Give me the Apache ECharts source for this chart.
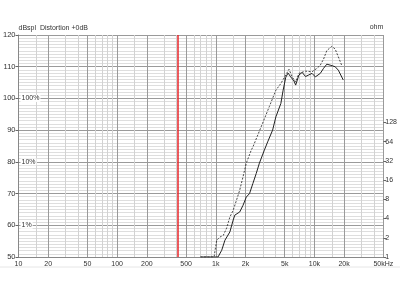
<!DOCTYPE html>
<html>
<head>
<meta charset="utf-8">
<script src="https://cdn.jsdelivr.net/npm/echarts@6/dist/echarts.min.js"></script>
<style>html,body{margin:0;padding:0;background:#fff;}#c{width:400px;height:300px;}</style>
</head>
<body>
<div id="c"></div>
<script>
// ---- data ----
const solidFreq = [700, 1054, 1148, 1239, 1390, 1500, 1560, 1750, 1890, 2040, 2200, 2380, 2570, 2770, 3110, 3360, 3770, 4070, 4570, 4820, 5130, 5410, 5750, 6210, 6460, 6970, 7520, 8130, 8770, 9460, 10230, 10620, 11480, 12390, 13370, 14450, 16220, 17500, 19630];
const solidDb   = [50, 50, 52.1, 55.3, 57.9, 61.6, 63.2, 64.2, 66.3, 68.9, 70, 73.2, 76.3, 79.6, 83.7, 86.3, 90, 94.2, 98.4, 102.6, 106.7, 108, 106.8, 105.5, 104.2, 107.4, 108.2, 106.9, 107.4, 107.9, 106.8, 106.3, 107.9, 109.5, 110.8, 110.5, 110, 108.9, 105.8];
const dashFreq  = [700, 962, 984, 1023, 1104, 1191, 1288, 1390, 1500, 1622, 1750, 1890, 2040, 2290, 2380, 2880, 3490, 4070, 4570, 5130, 5530, 5970, 6460, 6970, 8130, 9460, 10620, 11480, 12390, 13370, 15000, 16220, 17500, 18880];
const dashDb    = [50, 50, 52.1, 55.3, 56.3, 56.8, 59.1, 62.6, 64.7, 67.9, 71.1, 75.3, 79.6, 83.7, 84.7, 91, 97.4, 102.6, 104.7, 107.4, 109.2, 106.7, 105.2, 107.9, 108.6, 108.4, 109.5, 110.5, 112.4, 115.1, 116.4, 115.6, 113.1, 110.5];
const markerFreq = 410;
const xMajorTicks = [10, 20, 50, 100, 200, 500, 1000, 2000, 5000, 10000, 20000, 50000];
const xTickLabels = ['10', '20', '50', '100', '200', '500', '1k', '2k', '5k', '10k', '20k', '50kHz'];
const xMinorTicks = [15, 30, 40, 60, 70, 80, 90, 150, 300, 400, 600, 700, 800, 900, 1500, 3000, 4000, 6000, 7000, 8000, 9000, 15000, 30000, 40000];
const ohmTicks = [1, 2, 4, 8, 16, 32, 64, 128];
const distTicks = [60, 80, 100];
const distLabels = ['1%', '10%', '100%'];

const FONT = 'Liberation Sans, Arial, sans-serif';
const zip = (a, b) => a.map((v, i) => [v, b[i]]);

const chart = echarts.init(document.getElementById('c'), null, {renderer: 'canvas'});
chart.setOption({
  animation: false,
  backgroundColor: '#fff',
  grid: {left: 16, right: 15, top: 35, bottom: 43, containLabel: false},
  graphic: [{type: 'line', shape: {x1: 0, y1: 267, x2: 400, y2: 267}, style: {stroke: '#e6e6e6', lineWidth: 1}, silent: true}],
  xAxis: [
    {
      type: 'log', min: 10, max: 50000, position: 'bottom',
      axisLine: {show: false}, axisTick: {show: false, customValues: xMinorTicks},
      axisLabel: {show: false, customValues: xMinorTicks},
      splitLine: {show: true, lineStyle: {color: '#d2d2d2', width: 1}}
    },
    {
      type: 'log', min: 10, max: 50000, position: 'bottom',
      axisLine: {show: true, lineStyle: {color: '#888'}},
      axisTick: {show: false, customValues: xMajorTicks},
      axisLabel: {
        customValues: xMajorTicks, fontSize: 7, color: '#333', fontFamily: FONT, margin: 4,
        formatter: v => xTickLabels[xMajorTicks.indexOf(Math.round(v))] || ''
      },
      splitLine: {show: true, lineStyle: {color: '#9a9a9a', width: 1}}
    }
  ],
  yAxis: [
    {
      type: 'value', min: 50, max: 120, interval: 10, position: 'left',
      name: 'dBspl  Distortion +0dB', nameLocation: 'end', nameGap: 3,
      nameTextStyle: {align: 'left', fontSize: 7, color: '#333', fontFamily: FONT, padding: [0, 0, 0, 0]},
      axisLine: {show: true, lineStyle: {color: '#888'}},
      axisTick: {show: true, length: 3, lineStyle: {color: '#666'}},
      axisLabel: {fontSize: 7.5, color: '#333', fontFamily: FONT, margin: 3},
      splitLine: {show: true, lineStyle: {color: '#9a9a9a', width: 1}},
      minorTick: {show: false, splitNumber: 10},
      minorSplitLine: {show: true, lineStyle: {color: '#dedede', width: 1}}
    },
    {
      type: 'log', logBase: 2, min: 1, max: 2992, position: 'right',
      name: 'ohm', nameLocation: 'end', nameGap: 4,
      nameTextStyle: {align: 'right', fontSize: 7, color: '#333', fontFamily: FONT},
      axisLine: {show: false},
      axisTick: {show: true, length: 3, customValues: ohmTicks, lineStyle: {color: '#666'}},
      axisLabel: {customValues: ohmTicks, fontSize: 7, color: '#333', fontFamily: FONT, margin: 2},
      splitLine: {show: false}
    },
    {
      type: 'value', min: 50, max: 120, position: 'left',
      axisLine: {show: false}, axisTick: {show: false}, splitLine: {show: false},
      axisLabel: {
        inside: true, customValues: distTicks, fontSize: 7, color: '#333', fontFamily: FONT, margin: 2,
        backgroundColor: '#fff', padding: [0, 1, 0, 1],
        formatter: v => distLabels[distTicks.indexOf(Math.round(v))] || ''
      }
    }
  ],
  series: [
    {
      type: 'line', xAxisIndex: 1, yAxisIndex: 0, data: zip(solidFreq, solidDb),
      showSymbol: false, smooth: false, lineStyle: {color: '#222', width: 1},
      markLine: {
        silent: true, symbol: 'none', label: {show: false},
        lineStyle: {color: '#e8262a', width: 1.5, type: 'solid'},
        data: [{xAxis: markerFreq}]
      }
    },
    {
      type: 'line', xAxisIndex: 1, yAxisIndex: 0, data: zip(dashFreq, dashDb),
      showSymbol: false, smooth: false, lineStyle: {color: '#333', width: 0.9, type: [2, 1.5]}
    }
  ]
});
</script>
</body>
</html>
